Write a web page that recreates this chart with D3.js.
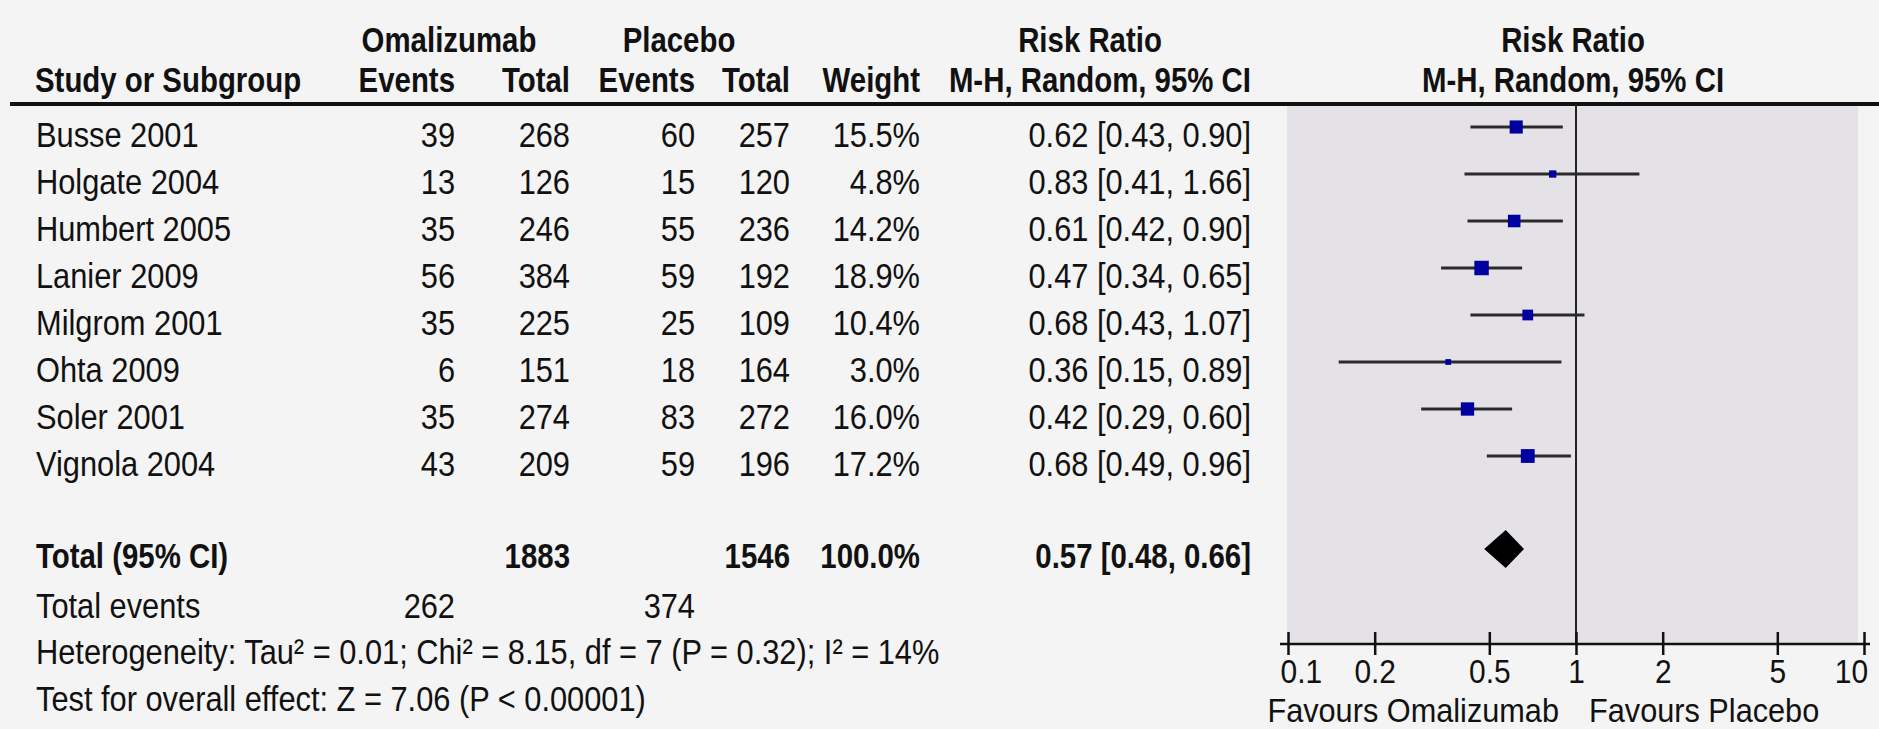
<!DOCTYPE html>
<html>
<head>
<meta charset="utf-8">
<script src="https://cdn.jsdelivr.net/npm/d3@7"></script>
<style>
  html, body { margin: 0; padding: 0; background: #f4f4f4; }
  svg { display: block; }
  text { font-family: "Liberation Sans", Arial, sans-serif; fill: #111; }
</style>
</head>
<body>
<svg id="chart" width="1879" height="729"></svg>
<script>
// Forest plot: Omalizumab vs Placebo, risk ratio (M-H, random effects)
const studies   = ["Busse 2001", "Holgate 2004", "Humbert 2005", "Lanier 2009", "Milgrom 2001", "Ohta 2009", "Soler 2001", "Vignola 2004"];
const omEvents  = [39, 13, 35, 56, 35, 6, 35, 43];
const omTotal   = [268, 126, 246, 384, 225, 151, 274, 209];
const plEvents  = [60, 15, 55, 59, 25, 18, 83, 59];
const plTotal   = [257, 120, 236, 192, 109, 164, 272, 196];
const weights   = [15.5, 4.8, 14.2, 18.9, 10.4, 3.0, 16.0, 17.2];
const rr        = [0.62, 0.83, 0.61, 0.47, 0.68, 0.36, 0.42, 0.68];
const ciLow     = [0.43, 0.41, 0.42, 0.34, 0.43, 0.15, 0.29, 0.49];
const ciHigh    = [0.90, 1.66, 0.90, 0.65, 1.07, 0.89, 0.60, 0.96];
const pooled    = [0.57, 0.48, 0.66];           // estimate, lower, upper
const totals    = [1883, 1546];                  // omalizumab, placebo participants
const totalEvents = [262, 374];
const tickValues = [0.1, 0.2, 0.5, 1, 2, 5, 10];
const tickLabels = ["0.1", "0.2", "0.5", "1", "2", "5", "10"];
const heterogeneity = "Heterogeneity: Tau\u00B2 = 0.01; Chi\u00B2 = 8.15, df = 7 (P = 0.32); I\u00B2 = 14%";
const overallTest = "Test for overall effect: Z = 7.06 (P < 0.00001)";

const svg = d3.select("#chart");
const FS = 35;          // table font size
const SX = 0.88;        // horizontal condensing of regular text
const SXB = 0.84;       // horizontal condensing of bold text

function fmt2(v) { return d3.format(".2f")(v); }
function ciText(e, l, h) { return `${fmt2(e)} [${fmt2(l)}, ${fmt2(h)}]`; }

// text helper: condensed glyphs, positioned by transform so anchors stay exact
function label(x, y, s, opts = {}) {
  const bold = !!opts.bold;
  const sx = opts.sx || (bold ? SXB : SX);
  return svg.append("text")
    .attr("transform", `translate(${x},${y}) scale(${sx},1)`)
    .attr("text-anchor", opts.anchor || "start")
    .attr("font-size", opts.size || FS)
    .attr("font-weight", bold ? "bold" : "normal")
    .text(s);
}

// scales
const x = d3.scaleLog().domain([0.1, 10]).range([1288, 1864]);
const y = d3.scalePoint().domain(studies).range([127, 456]);
const yPooled = 549, yTotalEvents = 605 - 7, yHet = 651 - 7, yTest = 698 - 7;
const axisY = 644;
const headerLineY = 104;
const baseOff = 19.5;   // baseline offset from row centre line

// column right edges
const col = { omEv: 455, omTot: 570, plEv: 695, plTot: 790, weight: 920, ci: 1251 };
const labelX = 36;

// plot panel
svg.append("rect")
  .attr("x", 1287).attr("y", headerLineY)
  .attr("width", 1858 - 1287).attr("height", axisY - headerLineY)
  .attr("fill", "#e5e2e7");

// headers
label(449, 39 + 12.5, "Omalizumab", { bold: true, anchor: "middle" });
label(679, 39 + 12.5, "Placebo", { bold: true, anchor: "middle" });
label(1090, 39 + 12.5, "Risk Ratio", { bold: true, anchor: "middle" });
label(1573, 39 + 12.5, "Risk Ratio", { bold: true, anchor: "middle" });
const h2 = 79 + 12.5;
label(35, h2, "Study or Subgroup", { bold: true });
label(col.omEv, h2, "Events", { bold: true, anchor: "end" });
label(col.omTot, h2, "Total", { bold: true, anchor: "end" });
label(col.plEv, h2, "Events", { bold: true, anchor: "end" });
label(col.plTot, h2, "Total", { bold: true, anchor: "end" });
label(col.weight, h2, "Weight", { bold: true, anchor: "end" });
label(col.ci, h2, "M-H, Random, 95% CI", { bold: true, anchor: "end" });
label(1573, h2, "M-H, Random, 95% CI", { bold: true, anchor: "middle" });

svg.append("line")
  .attr("x1", 10).attr("x2", 1879)
  .attr("y1", headerLineY).attr("y2", headerLineY)
  .attr("stroke", "#111").attr("stroke-width", 4);

// study rows
studies.forEach((s, i) => {
  const yb = y(s) + baseOff;
  label(labelX, yb, s);
  label(col.omEv, yb, omEvents[i], { anchor: "end" });
  label(col.omTot, yb, omTotal[i], { anchor: "end" });
  label(col.plEv, yb, plEvents[i], { anchor: "end" });
  label(col.plTot, yb, plTotal[i], { anchor: "end" });
  label(col.weight, yb, d3.format(".1f")(weights[i]) + "%", { anchor: "end" });
  label(col.ci, yb, ciText(rr[i], ciLow[i], ciHigh[i]), { anchor: "end" });
});

// line of no effect
svg.append("line")
  .attr("x1", x(1)).attr("x2", x(1))
  .attr("y1", headerLineY).attr("y2", axisY)
  .attr("stroke", "#222").attr("stroke-width", 2);

// confidence intervals
svg.append("g").selectAll("line").data(studies).join("line")
  .attr("x1", (d, i) => x(ciLow[i])).attr("x2", (d, i) => x(ciHigh[i]))
  .attr("y1", d => y(d)).attr("y2", d => y(d))
  .attr("stroke", "#2a2a2a").attr("stroke-width", 3);

// weighted squares
const side = w => 3.33 * Math.sqrt(w);
svg.append("g").selectAll("rect").data(studies).join("rect")
  .attr("x", (d, i) => x(rr[i]) - side(weights[i]) / 2)
  .attr("y", (d, i) => y(d) - side(weights[i]) / 2)
  .attr("width", (d, i) => side(weights[i]))
  .attr("height", (d, i) => side(weights[i]))
  .attr("fill", "#0000a0");

// pooled estimate row
const yTot = yPooled + 6 + 12.5;
label(labelX, yTot, "Total (95% CI)", { bold: true });
label(col.omTot, yTot, totals[0], { bold: true, anchor: "end" });
label(col.plTot, yTot, totals[1], { bold: true, anchor: "end" });
label(col.weight, yTot, "100.0%", { bold: true, anchor: "end" });
label(col.ci, yTot, ciText(pooled[0], pooled[1], pooled[2]), { bold: true, anchor: "end" });

const halfH = 19;
svg.append("path")
  .attr("d", `M${x(pooled[1])},${yPooled} L${x(pooled[0])},${yPooled - halfH} L${x(pooled[2])},${yPooled} L${x(pooled[0])},${yPooled + halfH} Z`)
  .attr("fill", "#000");

label(labelX, yTotalEvents + baseOff, "Total events");
label(col.omEv, yTotalEvents + baseOff, totalEvents[0], { anchor: "end" });
label(col.plEv, yTotalEvents + baseOff, totalEvents[1], { anchor: "end" });
label(labelX, yHet + baseOff, heterogeneity);
label(labelX, yTest + baseOff, overallTest);

// axis
const axis = d3.axisBottom(x)
  .tickValues(tickValues)
  .tickFormat((d, i) => tickLabels[i])
  .tickSizeOuter(0);
const gAxis = svg.append("g").attr("transform", `translate(0,${axisY})`).call(axis);
gAxis.select(".domain").remove();
gAxis.selectAll(".tick line")
  .attr("y1", -12).attr("y2", 11)
  .attr("stroke", "#111").attr("stroke-width", 2.5);
gAxis.selectAll(".tick text")
  .attr("y", 0).attr("dy", null)
  .attr("font-size", 34)
  .attr("fill", "#111")
  .attr("font-family", "Liberation Sans, Arial, sans-serif")
  .attr("transform", "translate(0,39) scale(0.88,1)")
  .attr("text-anchor", (d, i) => i === 0 ? "start" : (i === tickValues.length - 1 ? "end" : "middle"))
  .attr("x", (d, i) => i === 0 ? -9 : (i === tickValues.length - 1 ? 4 : 0));
gAxis.append("line")
  .attr("x1", x(0.1) - 8).attr("x2", x(10) + 6)
  .attr("y1", 0).attr("y2", 0)
  .attr("stroke", "#111").attr("stroke-width", 2.5);

label(x(1) - 17, 722, "Favours Omalizumab", { anchor: "end", sx: 0.93, size: 33 });
label(x(1) + 13, 722, "Favours Placebo", { anchor: "start", sx: 0.93, size: 33 });
</script>
</body>
</html>
